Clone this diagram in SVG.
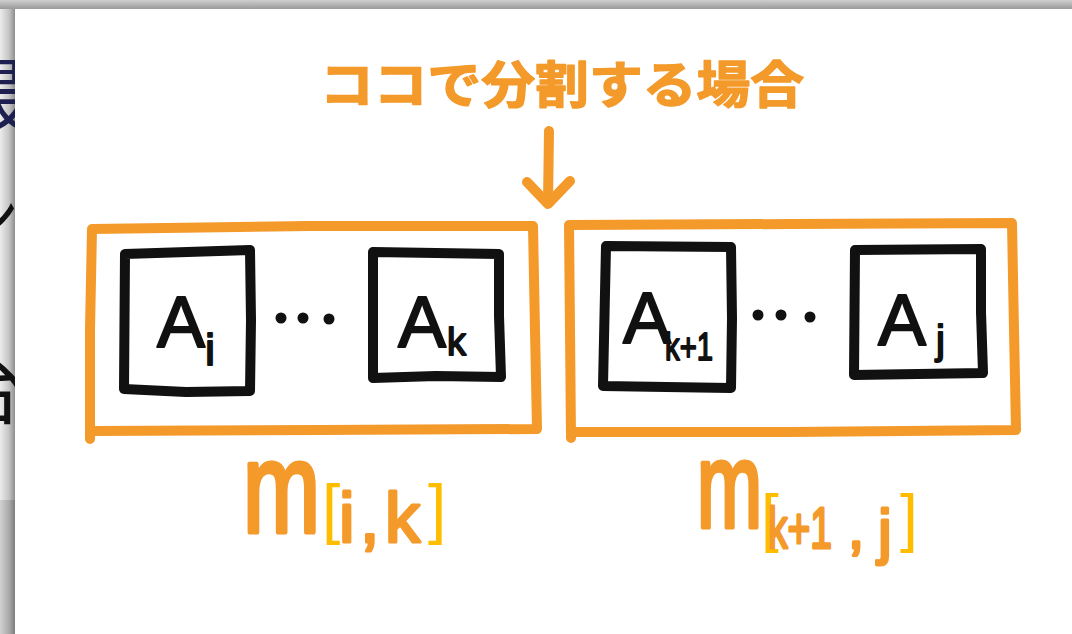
<svg xmlns="http://www.w3.org/2000/svg" width="1072" height="634" viewBox="0 0 1072 634">
  <defs>
    <linearGradient id="gLeft" x1="0" y1="0" x2="1" y2="0">
      <stop offset="0" stop-color="#ececec"/>
      <stop offset="0.6" stop-color="#c4c4c4"/>
      <stop offset="1" stop-color="#8e8e8e"/>
    </linearGradient>
    <linearGradient id="gLeft2" x1="0" y1="0" x2="1" y2="0">
      <stop offset="0" stop-color="#d2d2d2"/>
      <stop offset="0.6" stop-color="#aaaaaa"/>
      <stop offset="1" stop-color="#7c7c7c"/>
    </linearGradient>
    <linearGradient id="gTop" x1="0" y1="0" x2="0" y2="1">
      <stop offset="0" stop-color="#cfcfcf"/>
      <stop offset="1" stop-color="#9a9a9a"/>
    </linearGradient>
    <clipPath id="clipLeft"><rect x="0" y="9" width="15" height="625"/></clipPath>
    <style>
      .orange { fill: none; stroke: #f39a2b; stroke-width: 10; stroke-linecap: round; stroke-linejoin: round; }
      .black { fill: none; stroke: #111111; stroke-width: 10; stroke-linecap: round; stroke-linejoin: round; }
      .dot { fill: #111111; }
      .A { font-family: "Liberation Sans", "DejaVu Sans", sans-serif; fill: #111111; stroke: #111111; stroke-width: 2; stroke-linejoin: round; }
      .sub { font-family: "Liberation Sans", "DejaVu Sans", sans-serif; fill: #111111; stroke: #111111; stroke-width: 1.8; stroke-linejoin: round; }
      .title { font-family: "Noto Sans CJK JP", "Noto Sans", sans-serif; font-weight: 700; fill: #f39a2b; stroke: #f39a2b; stroke-width: 1.5; stroke-linejoin: round; }
      .lbl { font-family: "Liberation Sans", "DejaVu Sans", sans-serif; fill: #f39a2b; stroke: #f39a2b; stroke-linejoin: round; }
      .br { font-family: "Liberation Sans", "DejaVu Sans", sans-serif; fill: #ffbd00; }
      .bg { font-family: "Noto Sans CJK JP", sans-serif; }
    </style>
  </defs>

  <!-- background slide behind the overlay -->
  <rect x="0" y="0" width="1072" height="634" fill="#ffffff"/>
  <rect x="0" y="0" width="15" height="500" fill="url(#gLeft)"/>
  <rect x="0" y="500" width="15" height="134" fill="url(#gLeft2)"/>
  <rect x="0" y="0" width="1072" height="9" fill="url(#gTop)"/>
  <g clip-path="url(#clipLeft)">
    <text class="bg" x="-48" y="125" font-size="80" fill="#1c1f4f">最</text>
    <text class="bg" x="-45" y="240" font-size="64" fill="#111111">ン</text>
    <text class="bg" x="-52" y="418" font-size="76" fill="#111111">台</text>
  </g>

  <!-- overlay panel -->
  <rect x="15" y="9" width="1057" height="625" fill="#ffffff"/>

  <!-- title -->
  <g id="title">
    <text class="title" x="320" y="103" font-size="50" textLength="484" lengthAdjust="spacingAndGlyphs">ココで分割する場合</text>
  </g>

  <!-- connectors -->
  <g id="connectors">
    <path class="orange" d="M549 131 L548 203"/>
    <path class="orange" d="M527 182 L548 204 L570 181"/>
  </g>

  <!-- left group -->
  <g id="group-left">
    <path class="orange" d="M92 229 L310 226 L533 226 L535 330 L537 429 L320 430 L92 431 M92 229 L90 330 L90 439"/>
  </g>
  <g id="node-Ai">
    <path class="black" d="M125 254 L250 250 L251 320 L250 391 L186 392 L124 389 Z"/>
    <text class="A" x="157" y="347" font-size="72">A</text>
    <text class="sub" x="205" y="365" font-size="45">i</text>
  </g>
  <g id="dots-left">
    <circle class="dot" cx="281" cy="318" r="5.5"/>
    <circle class="dot" cx="303" cy="318" r="5.5"/>
    <circle class="dot" cx="329" cy="319" r="5.5"/>
  </g>
  <g id="node-Ak">
    <path class="black" d="M373 252 L499 254 L499 316 L501 377 L436 376 L373 378 Z"/>
    <text class="A" x="398" y="347" font-size="72">A</text>
    <text class="sub" x="447" y="355" font-size="38">k</text>
  </g>

  <!-- right group -->
  <g id="group-right">
    <path class="orange" d="M569 225 L790 224 L1012 223 L1014 330 L1016 430 L790 432 L571 432 M569 225 L570 330 L571 438"/>
  </g>
  <g id="node-Ak1">
    <path class="black" d="M606 246 L731 247 L732 318 L731 388 L666 387 L603 386 Z"/>
    <text class="A" x="623" y="343" font-size="72">A</text>
    <text class="sub" x="665" y="360" font-size="38" textLength="48" lengthAdjust="spacingAndGlyphs">k+1</text>
  </g>
  <g id="dots-right">
    <circle class="dot" cx="758" cy="315" r="5.5"/>
    <circle class="dot" cx="781" cy="315" r="5.5"/>
    <circle class="dot" cx="810" cy="317" r="5.5"/>
  </g>
  <g id="node-Aj">
    <path class="black" d="M855 250 L981 249 L981 312 L983 373 L918 374 L854 375 Z"/>
    <text class="A" x="878" y="345" font-size="72">A</text>
    <text class="sub" x="936" y="354" font-size="40">j</text>
  </g>

  <!-- bottom labels -->
  <g id="label-left">
    <text class="lbl" x="243" y="532" font-size="128" stroke-width="5" textLength="77" lengthAdjust="spacingAndGlyphs">m</text>
    <text class="br" x="322" y="531" font-size="66">[</text>
    <text class="lbl" stroke-width="3" font-size="70"><tspan x="339" y="542">i</tspan><tspan x="360" y="542">,</tspan><tspan x="385" y="542">k</tspan></text>
    <text class="br" x="428" y="531" font-size="66">]</text>
  </g>
  <g id="label-right">
    <text class="lbl" x="697" y="527" font-size="120" stroke-width="5" textLength="65" lengthAdjust="spacingAndGlyphs">m</text>
    <text class="br" x="761" y="540" font-size="64">[</text>
    <text class="lbl" stroke-width="3" font-size="58"><tspan x="768" y="548" textLength="64" lengthAdjust="spacingAndGlyphs">k+1</tspan><tspan x="848" y="548">,</tspan></text>
    <text class="lbl" x="878" y="552" font-size="62" stroke-width="3">j</text>
    <text class="br" x="900" y="540" font-size="64">]</text>
  </g>
</svg>
